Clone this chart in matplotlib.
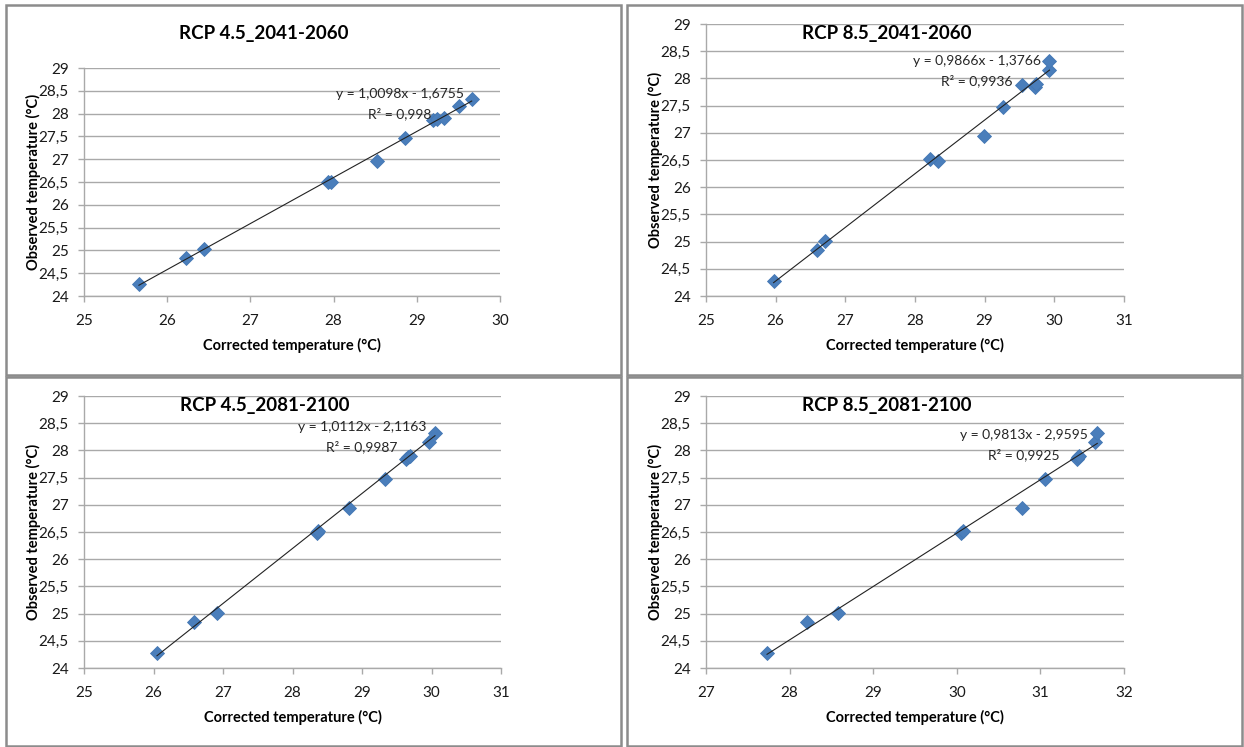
import matplotlib
matplotlib.use("Agg")
import matplotlib.pyplot as plt
from matplotlib.patches import Rectangle
from matplotlib.ticker import FuncFormatter, MultipleLocator

# Observed monthly mean temperature (°C), shared by all four scenarios
observed = [24.27, 24.84, 25.02, 26.49, 26.51, 26.95, 27.47, 27.85, 27.88, 27.90, 28.16, 28.32]

# Bias-corrected model temperature (°C) for each scenario / period
corr_45_2041 = [25.66, 26.23, 26.44, 27.93, 27.97, 28.52, 28.86, 29.20, 29.24, 29.33, 29.51, 29.66]
corr_85_2041 = [25.97, 26.60, 26.71, 28.33, 28.21, 28.99, 29.27, 29.72, 29.54, 29.74, 29.93, 29.92]
corr_45_2081 = [26.05, 26.58, 26.91, 28.35, 28.36, 28.81, 29.33, 29.63, 29.66, 29.69, 29.97, 30.05]
corr_85_2081 = [27.73, 28.21, 28.58, 30.05, 30.08, 30.78, 31.06, 31.44, 31.45, 31.46, 31.65, 31.68]

titles = ["RCP 4.5_2041-2060", "RCP 8.5_2041-2060", "RCP 4.5_2081-2100", "RCP 8.5_2081-2100"]
slopes = [1.0098, 0.9866, 1.0112, 0.9813]
intercepts = [-1.6755, -1.3766, -2.1163, -2.9595]
r2_labels = ["0,998", "0,9936", "0,9987", "0,9925"]
x_ranges = [(25, 30), (25, 31), (25, 31), (27, 32)]
y_range = (24, 29)

W, H = 1244, 747
fig = plt.figure(figsize=(W / 100, H / 100), dpi=100)
fig.patch.set_facecolor("white")

FONT = ["Lato", "DejaVu Sans"]
GRID = "#A9A9A9"
MARK = "#4A7EBB"


def fx(px):
    return px / W


def fy(py):
    return 1 - py / H


# layout in pixels: chart frame, plot area, title, equation anchors
frames = [(6, 5, 621, 375), (627, 5, 1242, 375), (6, 377, 621, 746), (627, 377, 1242, 746)]
plot_areas = [(84, 68, 500, 296), (706, 24, 1124, 296), (84, 396, 501, 668), (706, 396, 1124, 668)]
title_pos = [(264, 33), (887, 33), (265, 406), (887, 406)]
eq_pos = [(400, 94), (977, 61), (362, 427), (1024, 435)]
ylab_x = [33, 655, 33, 655]
xlab_y = [345, 345, 717, 717]

series = [corr_45_2041, corr_85_2041, corr_45_2081, corr_85_2081]


def comma(v, _pos):
    s = f"{v:g}"
    return s.replace(".", ",")


for i in range(4):
    x0, y0, x1, y1 = frames[i]
    fig.patches.append(Rectangle((fx(x0), fy(y1)), fx(x1 - x0), (y1 - y0) / H,
                                 transform=fig.transFigure, fill=False,
                                 edgecolor="#8C8C8C", linewidth=1.8, zorder=0))

    l, t, r, b = plot_areas[i]
    ax = fig.add_axes([fx(l), fy(b), fx(r - l), (b - t) / H])
    ax.set_xlim(*x_ranges[i])
    ax.set_ylim(*y_range)
    ax.xaxis.set_major_locator(MultipleLocator(1))
    ax.yaxis.set_major_locator(MultipleLocator(0.5))
    ax.yaxis.set_major_formatter(FuncFormatter(comma))
    ax.xaxis.set_major_formatter(FuncFormatter(comma))
    for sp in ("top", "right"):
        ax.spines[sp].set_visible(False)
    for sp in ("left", "bottom"):
        ax.spines[sp].set_color(GRID)
        ax.spines[sp].set_linewidth(1.0)
    ax.grid(axis="y", color=GRID, linewidth=1.0)
    ax.set_axisbelow(True)
    ax.tick_params(axis="both", direction="out", length=4, width=1.0, color=GRID,
                   labelsize=11, labelcolor="#1a1a1a")
    ax.tick_params(axis="y", pad=7)
    ax.tick_params(axis="x", pad=9)
    for lab in ax.get_xticklabels() + ax.get_yticklabels():
        lab.set_family(FONT)

    xs = series[i]
    ax.plot(xs, observed, linestyle="none", marker="D", markersize=7.6,
            markerfacecolor=MARK, markeredgecolor="#4377B4", markeredgewidth=0.6,
            zorder=3, clip_on=False)
    tx = [min(xs), max(xs)]
    ty = [slopes[i] * v + intercepts[i] for v in tx]
    ax.plot(tx, ty, color="#222222", linewidth=0.8, zorder=4)

    sign = "-" if intercepts[i] < 0 else "+"
    eq = f"y = {slopes[i]:.4f}x {sign} {abs(intercepts[i]):.4f}".replace(".", ",")
    ex, ey = eq_pos[i]
    fig.text(fx(ex), fy(ey), eq, ha="center", va="center", fontsize=10,
             family=FONT, color="#262626")
    fig.text(fx(ex), fy(ey + 20), f"R² = {r2_labels[i]}", ha="center", va="center",
             fontsize=10, family=FONT, color="#262626")

    tpx, tpy = title_pos[i]
    fig.text(fx(tpx), fy(tpy), titles[i], ha="center", va="center", fontsize=13.5,
             fontweight="bold", family=FONT, color="black")
    fig.text(fx(ylab_x[i]), fy((t + b) / 2), "Observed temperature (°C)", rotation=90,
             ha="center", va="center", fontsize=10.5, fontweight="bold", family=FONT)
    fig.text(fx((l + r) / 2), fy(xlab_y[i]), "Corrected temperature (°C)",
             ha="center", va="center", fontsize=10.5, fontweight="bold", family=FONT)

fig.savefig("out.png", dpi=100, facecolor="white")
